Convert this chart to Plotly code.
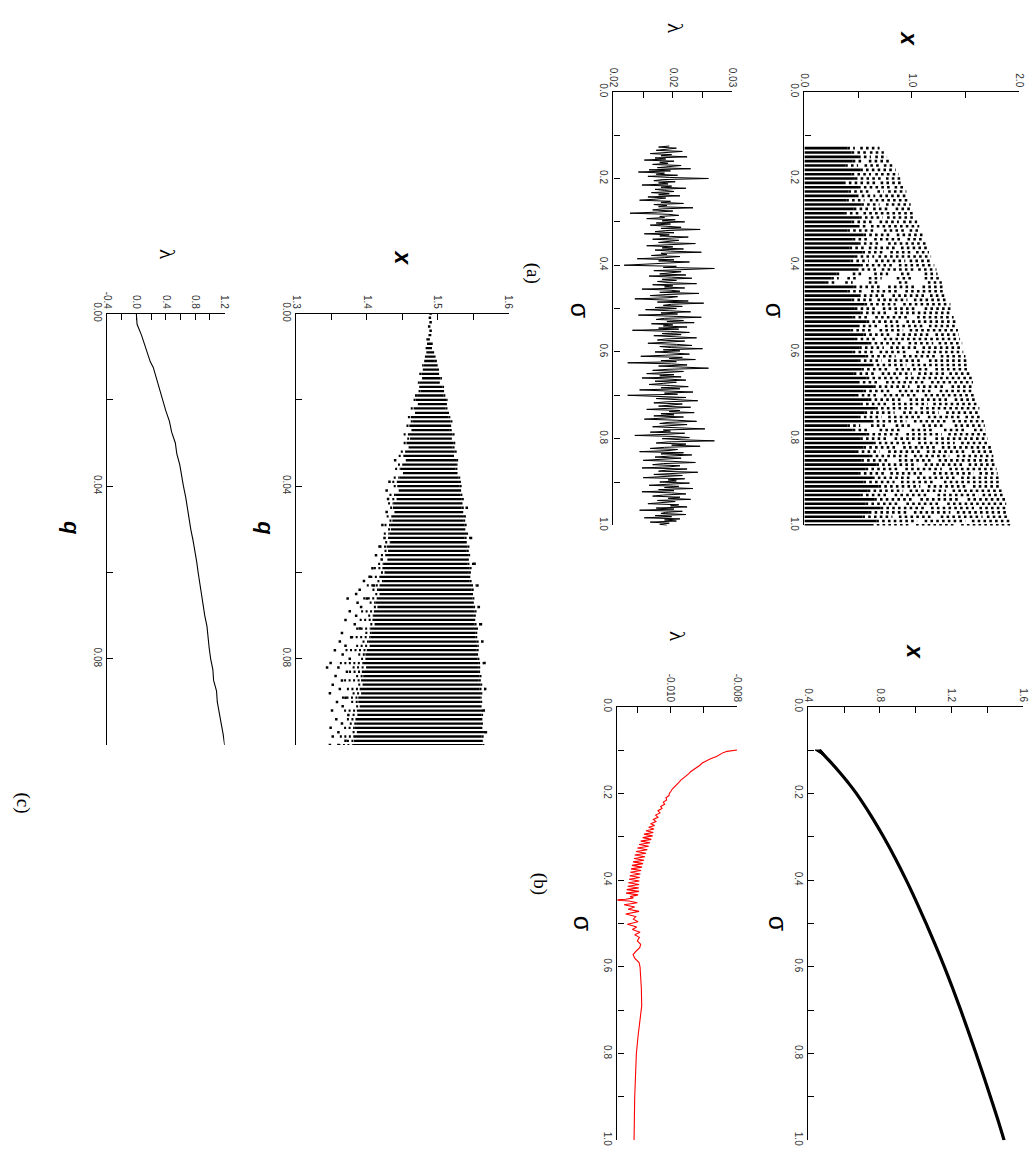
import plotly.graph_objects as go

W, H = 1035, 1164

# ---------------- panel (a), top: bifurcation rows x vs sigma ----------------
a1_sigma = [0.13, 0.14, 0.15, 0.16, 0.17, 0.18, 0.19, 0.20,
            0.21, 0.22, 0.23, 0.24, 0.25, 0.26, 0.27, 0.28, 0.29, 0.30,
            0.31, 0.32, 0.33, 0.34, 0.35, 0.36, 0.37, 0.38, 0.39, 0.40,
            0.41, 0.42, 0.43, 0.44, 0.45, 0.46, 0.47, 0.48, 0.49, 0.50,
            0.51, 0.52, 0.53, 0.54, 0.55, 0.56, 0.57, 0.58, 0.59, 0.60,
            0.61, 0.62, 0.63, 0.64, 0.65, 0.66, 0.67, 0.68, 0.69, 0.70,
            0.71, 0.72, 0.73, 0.74, 0.75, 0.76, 0.77, 0.78, 0.79, 0.80,
            0.81, 0.82, 0.83, 0.84, 0.85, 0.86, 0.87, 0.88, 0.89, 0.90,
            0.91, 0.92, 0.93, 0.94, 0.95, 0.96, 0.97, 0.98, 0.99, 1.00]
# end of the densely filled part of each row
a1_dense = [0.40, 0.44, 0.50, 0.45, 0.38, 0.52, 0.44, 0.47,
            0.36, 0.50, 0.41, 0.48, 0.39, 0.53, 0.46, 0.37, 0.51, 0.44,
            0.49, 0.40, 0.55, 0.45, 0.50, 0.42, 0.54, 0.47, 0.43, 0.52,
            0.48, 0.30, 0.25, 0.20, 0.46, 0.40, 0.50, 0.44, 0.56, 0.47,
            0.52, 0.45, 0.58, 0.49, 0.43, 0.55, 0.47, 0.60, 0.51, 0.45,
            0.57, 0.50, 0.62, 0.53, 0.46, 0.58, 0.49, 0.64, 0.55, 0.48,
            0.60, 0.52, 0.66, 0.56, 0.50, 0.62, 0.40, 0.45, 0.58, 0.52,
            0.64, 0.55, 0.48, 0.61, 0.53, 0.67, 0.57, 0.50, 0.63, 0.55,
            0.69, 0.59, 0.52, 0.65, 0.57, 0.71, 0.60, 0.54, 0.67, 0.62]
# largest x reached in each row
a1_max = [0.70, 0.74, 0.77, 0.80, 0.83, 0.85, 0.88, 0.90,
          0.91, 0.93, 0.95, 0.96, 0.98, 0.99, 1.00, 1.02, 1.04, 1.05,
          1.07, 1.08, 1.10, 1.12, 1.13, 1.15, 1.16, 1.18, 1.19, 1.21,
          1.23, 1.24, 1.26, 1.28, 1.30, 1.31, 1.33, 1.34, 1.36, 1.37,
          1.38, 1.39, 1.41, 1.42, 1.43, 1.44, 1.45, 1.47, 1.46, 1.48,
          1.50, 1.51, 1.52, 1.53, 1.55, 1.56, 1.57, 1.58, 1.58, 1.59,
          1.61, 1.62, 1.63, 1.64, 1.66, 1.67, 1.68, 1.69, 1.70, 1.71,
          1.73, 1.74, 1.75, 1.76, 1.77, 1.78, 1.79, 1.80, 1.81, 1.82,
          1.84, 1.85, 1.86, 1.87, 1.88, 1.89, 1.90, 1.91, 1.92, 1.93]
# empty stretches inside each row
a1_gaps = [
    [[0.47, 0.52]], [[0.58, 0.61]], [[0.62, 0.66]], [[0.55, 0.60]],
    [[0.50, 0.56], [0.70, 0.74]], [], [[0.62, 0.66]], [[0.72, 0.76]],
    [[0.55, 0.58], [0.68, 0.71]], [[0.80, 0.84]], [[0.62, 0.68], [0.74, 0.78]],
    [[0.66, 0.70]], [[0.56, 0.61], [0.85, 0.88]], [[0.70, 0.76]],
    [[0.60, 0.64], [0.80, 0.85]], [[0.52, 0.55], [0.90, 0.93]], [[0.73, 0.77]],
    [[0.64, 0.70], [0.88, 0.92]],
    [[0.58, 0.62]], [[0.66, 0.74], [0.95, 0.98]], [[0.82, 0.86]],
    [[0.60, 0.65], [0.92, 0.96]], [[0.70, 0.78]], [[0.57, 0.60], [0.86, 0.90]],
    [[0.75, 0.80], [1.00, 1.04]], [[0.65, 0.69]], [[0.60, 0.66], [0.94, 0.98]],
    [[0.82, 0.88]],
    [[0.68, 0.72], [1.02, 1.06]],
    [[0.35, 0.45], [0.55, 0.65], [0.78, 0.90], [1.00, 1.12]],
    [[0.32, 0.40], [0.50, 0.60], [0.72, 0.86], [1.02, 1.12]],
    [[0.28, 0.38], [0.45, 0.60], [0.70, 0.88], [0.98, 1.15]],
    [[0.72, 0.78], [1.05, 1.10]], [[0.55, 0.62], [0.88, 0.94]],
    [[0.76, 0.82], [1.12, 1.17]], [[0.63, 0.68], [0.96, 1.02]], [[0.85, 0.92]],
    [[0.66, 0.73], [1.05, 1.12]],
    [[0.78, 0.84]], [[0.60, 0.66], [0.98, 1.05]], [[0.88, 0.95]],
    [[0.70, 0.75], [1.10, 1.16]], [[0.62, 0.70], [0.92, 0.98]],
    [[0.80, 0.86], [1.18, 1.22]], [[0.68, 0.74]], [[0.90, 0.97], [1.20, 1.25]],
    [[0.74, 0.80], [1.05, 1.10]], [[0.64, 0.70], [0.96, 1.04]],
    [[0.85, 0.92], [1.22, 1.27]], [[0.72, 0.78], [1.10, 1.16]], [[0.95, 1.00]],
    [[0.80, 0.85], [1.15, 1.22]], [[0.66, 0.72], [1.00, 1.06], [1.30, 1.35]],
    [[0.88, 0.94]], [[0.70, 0.76], [1.12, 1.18]], [[0.98, 1.05], [1.32, 1.37]],
    [[0.82, 0.88], [1.20, 1.26]], [[0.68, 0.74], [1.05, 1.12]],
    [[0.92, 0.98], [1.35, 1.40]], [[0.76, 0.82], [1.15, 1.20]], [[1.02, 1.08]],
    [[0.84, 0.92], [1.25, 1.32]], [[0.72, 0.78], [1.08, 1.15], [1.45, 1.50]],
    [[0.95, 1.02], [1.32, 1.38]],
    [[0.52, 0.62], [0.75, 0.85], [1.00, 1.10], [1.30, 1.40]],
    [[0.60, 0.70], [0.90, 1.00], [1.20, 1.30], [1.50, 1.58]],
    [[0.88, 0.95], [1.28, 1.34]], [[0.78, 0.84], [1.15, 1.22]],
    [[1.00, 1.06], [1.40, 1.46]], [[0.85, 0.92], [1.22, 1.28]],
    [[0.70, 0.78], [1.08, 1.14], [1.50, 1.56]], [[0.96, 1.02], [1.35, 1.42]],
    [[0.80, 0.88], [1.18, 1.25]], [[1.05, 1.12], [1.48, 1.53]],
    [[0.88, 0.94], [1.28, 1.35]], [[0.74, 0.80], [1.12, 1.20], [1.58, 1.63]],
    [[0.98, 1.05], [1.40, 1.46]], [[0.84, 0.90], [1.22, 1.30]],
    [[1.08, 1.15], [1.52, 1.57]], [[0.92, 0.98], [1.32, 1.38]],
    [[0.78, 0.84], [1.16, 1.24], [1.62, 1.66]], [[1.02, 1.08], [1.45, 1.52]],
    [[0.88, 0.95], [1.26, 1.33]], [[1.12, 1.18], [1.58, 1.63]],
    [[0.95, 1.02], [1.36, 1.42]], [[0.82, 0.88], [1.20, 1.27], [1.66, 1.70]],
    [[1.05, 1.12], [1.50, 1.56]], [[0.98, 1.04], [1.40, 1.46]],
]

# ---------------- panel (a), middle: lambda vs sigma ----------------
a2_sigma = [
    0.1250, 0.1275, 0.1300, 0.1325, 0.1350, 0.1375, 0.1400, 0.1425, 0.1450, 0.1475,
    0.1500, 0.1525, 0.1550, 0.1575, 0.1600, 0.1625, 0.1650, 0.1675, 0.1700, 0.1725,
    0.1750, 0.1775, 0.1800, 0.1825, 0.1850, 0.1875, 0.1900, 0.1925, 0.1950, 0.1975,
    0.2000, 0.2025, 0.2050, 0.2075, 0.2100, 0.2125, 0.2150, 0.2175, 0.2200, 0.2225,
    0.2250, 0.2275, 0.2300, 0.2325, 0.2350, 0.2375, 0.2400, 0.2425, 0.2450, 0.2475,
    0.2500, 0.2525, 0.2550, 0.2575, 0.2600, 0.2625, 0.2650, 0.2675, 0.2700, 0.2725,
    0.2750, 0.2775, 0.2800, 0.2825, 0.2850, 0.2875, 0.2900, 0.2925, 0.2950, 0.2975,
    0.3000, 0.3025, 0.3050, 0.3075, 0.3100, 0.3125, 0.3150, 0.3175, 0.3200, 0.3225,
    0.3250, 0.3275, 0.3300, 0.3325, 0.3350, 0.3375, 0.3400, 0.3425, 0.3450, 0.3475,
    0.3500, 0.3525, 0.3550, 0.3575, 0.3600, 0.3625, 0.3650, 0.3675, 0.3700, 0.3725,
    0.3750, 0.3775, 0.3800, 0.3825, 0.3850, 0.3875, 0.3900, 0.3925, 0.3950, 0.3975,
    0.4000, 0.4025, 0.4050, 0.4075, 0.4100, 0.4125, 0.4150, 0.4175, 0.4200, 0.4225,
    0.4250, 0.4275, 0.4300, 0.4325, 0.4350, 0.4375, 0.4400, 0.4425, 0.4450, 0.4475,
    0.4500, 0.4525, 0.4550, 0.4575, 0.4600, 0.4625, 0.4650, 0.4675, 0.4700, 0.4725,
    0.4750, 0.4775, 0.4800, 0.4825, 0.4850, 0.4875, 0.4900, 0.4925, 0.4950, 0.4975,
    0.5000, 0.5025, 0.5050, 0.5075, 0.5100, 0.5125, 0.5150, 0.5175, 0.5200, 0.5225,
    0.5250, 0.5275, 0.5300, 0.5325, 0.5350, 0.5375, 0.5400, 0.5425, 0.5450, 0.5475,
    0.5500, 0.5525, 0.5550, 0.5575, 0.5600, 0.5625, 0.5650, 0.5675, 0.5700, 0.5725,
    0.5750, 0.5775, 0.5800, 0.5825, 0.5850, 0.5875, 0.5900, 0.5925, 0.5950, 0.5975,
    0.6000, 0.6025, 0.6050, 0.6075, 0.6100, 0.6125, 0.6150, 0.6175, 0.6200, 0.6225,
    0.6250, 0.6275, 0.6300, 0.6325, 0.6350, 0.6375, 0.6400, 0.6425, 0.6450, 0.6475,
    0.6500, 0.6525, 0.6550, 0.6575, 0.6600, 0.6625, 0.6650, 0.6675, 0.6700, 0.6725,
    0.6750, 0.6775, 0.6800, 0.6825, 0.6850, 0.6875, 0.6900, 0.6925, 0.6950, 0.6975,
    0.7000, 0.7025, 0.7050, 0.7075, 0.7100, 0.7125, 0.7150, 0.7175, 0.7200, 0.7225,
    0.7250, 0.7275, 0.7300, 0.7325, 0.7350, 0.7375, 0.7400, 0.7425, 0.7450, 0.7475,
    0.7500, 0.7525, 0.7550, 0.7575, 0.7600, 0.7625, 0.7650, 0.7675, 0.7700, 0.7725,
    0.7750, 0.7775, 0.7800, 0.7825, 0.7850, 0.7875, 0.7900, 0.7925, 0.7950, 0.7975,
    0.8000, 0.8025, 0.8050, 0.8075, 0.8100, 0.8125, 0.8150, 0.8175, 0.8200, 0.8225,
    0.8250, 0.8275, 0.8300, 0.8325, 0.8350, 0.8375, 0.8400, 0.8425, 0.8450, 0.8475,
    0.8500, 0.8525, 0.8550, 0.8575, 0.8600, 0.8625, 0.8650, 0.8675, 0.8700, 0.8725,
    0.8750, 0.8775, 0.8800, 0.8825, 0.8850, 0.8875, 0.8900, 0.8925, 0.8950, 0.8975,
    0.9000, 0.9025, 0.9050, 0.9075, 0.9100, 0.9125, 0.9150, 0.9175, 0.9200, 0.9225,
    0.9250, 0.9275, 0.9300, 0.9325, 0.9350, 0.9375, 0.9400, 0.9425, 0.9450, 0.9475,
    0.9500, 0.9525, 0.9550, 0.9575, 0.9600, 0.9625, 0.9650, 0.9675, 0.9700, 0.9725,
    0.9750, 0.9775, 0.9800, 0.9825, 0.9850, 0.9875, 0.9900, 0.9925, 0.9950, 0.9975,
    1.0000]
a2_lambda = [
    0.0197, 0.0188, 0.0203, 0.0192, 0.0186, 0.0208, 0.0195, 0.0181, 0.0199, 0.0190,
    0.0212, 0.0185, 0.0194, 0.0176, 0.0201, 0.0189, 0.0196, 0.0183, 0.0207, 0.0192,
    0.0187, 0.0215, 0.0180, 0.0198, 0.0171, 0.0193, 0.0186, 0.0204, 0.0179, 0.0197,
    0.0230, 0.0191, 0.0184, 0.0202, 0.0188, 0.0196, 0.0174, 0.0199, 0.0190, 0.0211,
    0.0185, 0.0193, 0.0201, 0.0182, 0.0197, 0.0188, 0.0206, 0.0179, 0.0194, 0.0186,
    0.0172, 0.0198, 0.0190, 0.0209, 0.0184, 0.0195, 0.0188, 0.0217, 0.0191, 0.0183,
    0.0200, 0.0187, 0.0164, 0.0196, 0.0205, 0.0189, 0.0193, 0.0178, 0.0202, 0.0191,
    0.0210, 0.0186, 0.0198, 0.0181, 0.0195, 0.0207, 0.0190, 0.0223, 0.0194, 0.0185,
    0.0201, 0.0176, 0.0197, 0.0189, 0.0213, 0.0192, 0.0183, 0.0205, 0.0196, 0.0188,
    0.0219, 0.0193, 0.0178, 0.0200, 0.0191, 0.0209, 0.0185, 0.0198, 0.0224, 0.0190,
    0.0195, 0.0182, 0.0206, 0.0193, 0.0170, 0.0201, 0.0188, 0.0214, 0.0197, 0.0186,
    0.0159, 0.0203, 0.0192, 0.0235, 0.0198, 0.0184, 0.0207, 0.0194, 0.0189, 0.0211,
    0.0180, 0.0199, 0.0216, 0.0191, 0.0203, 0.0187, 0.0196, 0.0220, 0.0183, 0.0200,
    0.0193, 0.0210, 0.0174, 0.0198, 0.0206, 0.0189, 0.0222, 0.0195, 0.0181, 0.0204,
    0.0196, 0.0168, 0.0201, 0.0213, 0.0187, 0.0226, 0.0199, 0.0192, 0.0208, 0.0185,
    0.0203, 0.0177, 0.0197, 0.0215, 0.0190, 0.0204, 0.0171, 0.0199, 0.0224, 0.0193,
    0.0186, 0.0209, 0.0195, 0.0218, 0.0182, 0.0200, 0.0192, 0.0212, 0.0188, 0.0205,
    0.0166, 0.0198, 0.0214, 0.0191, 0.0207, 0.0184, 0.0201, 0.0220, 0.0194, 0.0187,
    0.0210, 0.0196, 0.0179, 0.0203, 0.0216, 0.0189, 0.0199, 0.0225, 0.0192, 0.0206,
    0.0185, 0.0201, 0.0214, 0.0194, 0.0173, 0.0208, 0.0197, 0.0219, 0.0190, 0.0203,
    0.0162, 0.0199, 0.0212, 0.0188, 0.0205, 0.0230, 0.0196, 0.0183, 0.0209, 0.0194,
    0.0178, 0.0201, 0.0189, 0.0207, 0.0174, 0.0196, 0.0211, 0.0185, 0.0203, 0.0192,
    0.0180, 0.0198, 0.0213, 0.0190, 0.0206, 0.0172, 0.0200, 0.0217, 0.0193, 0.0204,
    0.0162, 0.0197, 0.0211, 0.0186, 0.0203, 0.0221, 0.0195, 0.0184, 0.0208, 0.0199,
    0.0188, 0.0215, 0.0193, 0.0178, 0.0206, 0.0197, 0.0218, 0.0190, 0.0201, 0.0184,
    0.0209, 0.0194, 0.0176, 0.0203, 0.0220, 0.0196, 0.0189, 0.0212, 0.0199, 0.0183,
    0.0205, 0.0227, 0.0192, 0.0198, 0.0181, 0.0210, 0.0195, 0.0168, 0.0202, 0.0214,
    0.0191, 0.0207, 0.0235, 0.0196, 0.0186, 0.0211, 0.0199, 0.0223, 0.0193, 0.0181,
    0.0204, 0.0196, 0.0172, 0.0209, 0.0190, 0.0216, 0.0198, 0.0185, 0.0207, 0.0194,
    0.0175, 0.0201, 0.0219, 0.0192, 0.0183, 0.0206, 0.0197, 0.0174, 0.0212, 0.0195,
    0.0188, 0.0221, 0.0199, 0.0184, 0.0208, 0.0193, 0.0175, 0.0210, 0.0196, 0.0203,
    0.0189, 0.0214, 0.0197, 0.0180, 0.0205, 0.0193, 0.0217, 0.0188, 0.0201, 0.0174,
    0.0199, 0.0211, 0.0192, 0.0183, 0.0206, 0.0196, 0.0215, 0.0187, 0.0202, 0.0193,
    0.0179, 0.0205, 0.0198, 0.0212, 0.0186, 0.0201, 0.0172, 0.0208, 0.0194, 0.0190,
    0.0211, 0.0185, 0.0199, 0.0176, 0.0206, 0.0193, 0.0203, 0.0181, 0.0197, 0.0189,
    0.0195]

# ---------------- panel (b), top: x vs sigma ----------------
b1_sigma = [0.10, 0.125, 0.15, 0.175, 0.20, 0.25, 0.30, 0.35, 0.40, 0.45, 0.50, 0.55,
            0.60, 0.65, 0.70, 0.75, 0.80, 0.85, 0.90, 0.95, 1.00]
b1_x = [0.461, 0.518, 0.572, 0.622, 0.668, 0.748, 0.820, 0.886, 0.947, 1.004, 1.058, 1.110,
        1.160, 1.207, 1.252, 1.295, 1.337, 1.378, 1.418, 1.457, 1.494]
# short transient wedge at the start of the branch
b1_wedge_sigma = [0.100, 0.100, 0.118, 0.100]
b1_wedge_x = [0.438, 0.472, 0.505, 0.438]

# ---------------- panel (b), middle: lambda vs sigma ----------------
b2_sigma = [0.100, 0.103, 0.106, 0.110, 0.115, 0.120, 0.125, 0.130, 0.135, 0.140,
            0.145, 0.150, 0.155, 0.160, 0.165, 0.170, 0.175, 0.180, 0.185, 0.190,
            0.195, 0.200, 0.205, 0.210, 0.215, 0.220, 0.225, 0.230, 0.235, 0.240,
            0.245, 0.250, 0.255, 0.260, 0.265, 0.270,
            0.274, 0.278, 0.282, 0.286, 0.290, 0.294, 0.298, 0.302, 0.306, 0.310,
            0.314, 0.318, 0.322, 0.326, 0.330, 0.334, 0.338, 0.342, 0.346, 0.350,
            0.354, 0.358, 0.362, 0.366, 0.370, 0.374, 0.378, 0.382, 0.386, 0.390,
            0.394, 0.398, 0.402, 0.406, 0.410, 0.414, 0.418, 0.422, 0.426, 0.430,
            0.434, 0.438, 0.441, 0.444, 0.446, 0.448,
            0.452, 0.457, 0.462, 0.467, 0.472, 0.478, 0.484, 0.490, 0.496, 0.502,
            0.508, 0.514, 0.520, 0.526, 0.532, 0.540, 0.548, 0.556, 0.564, 0.572,
            0.580, 0.590, 0.600, 0.620, 0.650, 0.690, 0.720, 0.760, 0.800, 0.850,
            0.900, 0.950, 1.000]
b2_lambda = [-0.00800, -0.00830, -0.00842, -0.00850, -0.00862, -0.00880, -0.00893, -0.00905, -0.00912, -0.00922,
             -0.00930, -0.00940, -0.00946, -0.00955, -0.00962, -0.00970, -0.00976, -0.00983, -0.00988, -0.00995,
             -0.00999, -0.01004, -0.01005, -0.01014, -0.01012, -0.01022, -0.01018, -0.01030, -0.01026, -0.01038,
             -0.01032, -0.01045, -0.01038, -0.01052, -0.01044, -0.01060,
             -0.01048, -0.01066, -0.01050, -0.01074, -0.01052, -0.01080, -0.01054, -0.01084, -0.01058, -0.01090,
             -0.01062, -0.01095, -0.01066, -0.01100, -0.01070, -0.01104, -0.01074, -0.01108, -0.01077, -0.01110,
             -0.01080, -0.01113, -0.01083, -0.01116, -0.01086, -0.01119, -0.01089, -0.01121, -0.01091, -0.01123,
             -0.01093, -0.01125, -0.01094, -0.01127, -0.01095, -0.01129, -0.01096, -0.01132, -0.01095, -0.01134,
             -0.01098, -0.01122, -0.01112, -0.01135, -0.01168, -0.01125,
             -0.01100, -0.01140, -0.01108, -0.01128, -0.01095, -0.01135, -0.01105, -0.01112, -0.01098, -0.01130,
             -0.01102, -0.01115, -0.01092, -0.01108, -0.01094, -0.01100, -0.01090, -0.01093, -0.01104, -0.01113,
             -0.01108, -0.01095, -0.01092, -0.01090, -0.01088, -0.01087, -0.01092, -0.01098, -0.01103, -0.01106,
             -0.01108, -0.01109, -0.01110]

# ---------------- panel (a), bottom: bifurcation rows x vs q ----------------
a3_q = [0.000, 0.001, 0.002, 0.003, 0.004, 0.005, 0.006, 0.007, 0.008, 0.009,
        0.010, 0.011, 0.012, 0.013, 0.014, 0.015, 0.016, 0.017, 0.018, 0.019,
        0.020, 0.021, 0.022, 0.023, 0.024, 0.025, 0.026, 0.027, 0.028, 0.029,
        0.030, 0.031, 0.032, 0.033, 0.034, 0.035, 0.036, 0.037, 0.038, 0.039,
        0.040, 0.041, 0.042, 0.043, 0.044, 0.045, 0.046, 0.047, 0.048, 0.049,
        0.050, 0.051, 0.052, 0.053, 0.054, 0.055, 0.056, 0.057, 0.058, 0.059,
        0.060, 0.061, 0.062, 0.063, 0.064, 0.065, 0.066, 0.067, 0.068, 0.069,
        0.070, 0.071, 0.072, 0.073, 0.074, 0.075, 0.076, 0.077, 0.078, 0.079,
        0.080, 0.081, 0.082, 0.083, 0.084, 0.085, 0.086, 0.087, 0.088, 0.089,
        0.090, 0.091, 0.092, 0.093, 0.094, 0.095, 0.096, 0.097, 0.098, 0.099, 0.100]
# filled core of each row
a3_lo = [1.490, 1.489, 1.490, 1.488, 1.490, 1.487, 1.484, 1.485, 1.483, 1.484,
         1.482, 1.481, 1.480, 1.479, 1.477, 1.478, 1.475, 1.474, 1.476, 1.471,
         1.469, 1.472, 1.466, 1.468, 1.462, 1.465, 1.460, 1.463, 1.458, 1.461,
         1.456, 1.459, 1.454, 1.452, 1.455, 1.450, 1.448, 1.451, 1.446, 1.444,
         1.443, 1.445, 1.440, 1.442, 1.438, 1.437, 1.439, 1.435, 1.436, 1.433,
         1.434, 1.432, 1.430, 1.433, 1.428, 1.430, 1.426, 1.429, 1.424, 1.422,
         1.425, 1.420, 1.423, 1.418, 1.416, 1.418, 1.414, 1.412, 1.415, 1.410,
         1.410, 1.408, 1.411, 1.405, 1.407, 1.405, 1.402, 1.404, 1.400, 1.398,
         1.398, 1.396, 1.399, 1.393, 1.395, 1.392, 1.394, 1.390, 1.392, 1.388,
         1.388, 1.390, 1.386, 1.387, 1.384, 1.385, 1.383, 1.386, 1.381, 1.382, 1.380]
a3_hi = [1.490, 1.489, 1.490, 1.488, 1.490, 1.491, 1.489, 1.493, 1.492, 1.495,
         1.497, 1.496, 1.500, 1.499, 1.502, 1.504, 1.503, 1.507, 1.509, 1.508,
         1.512, 1.513, 1.511, 1.516, 1.515, 1.518, 1.519, 1.517, 1.521, 1.520,
         1.522, 1.521, 1.524, 1.523, 1.526, 1.526, 1.525, 1.528, 1.529, 1.530,
         1.531, 1.533, 1.532, 1.534, 1.535, 1.534, 1.536, 1.537, 1.536, 1.538,
         1.539, 1.540, 1.538, 1.541, 1.542, 1.541, 1.543, 1.544, 1.542, 1.545,
         1.544, 1.546, 1.545, 1.547, 1.548, 1.547, 1.549, 1.551, 1.550, 1.552,
         1.551, 1.553, 1.552, 1.554, 1.553, 1.553, 1.555, 1.556, 1.555, 1.557,
         1.556, 1.557, 1.558, 1.557, 1.559, 1.558, 1.560, 1.559, 1.561, 1.560,
         1.560, 1.562, 1.561, 1.562, 1.563, 1.561, 1.563, 1.564, 1.562, 1.563, 1.563]
# sparse outer fringe of each row
a3_edge_lo = [1.490, 1.489, 1.490, 1.488, 1.490, 1.487, 1.484, 1.485, 1.483, 1.484,
              1.482, 1.481, 1.478, 1.479, 1.474, 1.478, 1.472, 1.474, 1.473, 1.468,
              1.466, 1.472, 1.462, 1.468, 1.458, 1.462, 1.456, 1.463, 1.452, 1.457,
              1.452, 1.459, 1.448, 1.445, 1.455, 1.444, 1.440, 1.451, 1.438, 1.436,
              1.438, 1.445, 1.432, 1.436, 1.430, 1.433, 1.439, 1.428, 1.432, 1.425,
              1.430, 1.424, 1.430, 1.426, 1.418, 1.425, 1.420, 1.429, 1.416, 1.410,
              1.420, 1.405, 1.415, 1.400, 1.408, 1.412, 1.395, 1.404, 1.410, 1.392,
              1.402, 1.390, 1.405, 1.385, 1.398, 1.378, 1.394, 1.385, 1.370, 1.388,
              1.392, 1.362, 1.380, 1.375, 1.385, 1.368, 1.388, 1.372, 1.380, 1.365,
              1.378, 1.385, 1.368, 1.380, 1.372, 1.376, 1.368, 1.380, 1.362, 1.372, 1.360]
a3_edge_hi = [1.490, 1.489, 1.490, 1.488, 1.490, 1.491, 1.489, 1.493, 1.492, 1.495,
              1.497, 1.499, 1.500, 1.502, 1.502, 1.506, 1.503, 1.509, 1.509, 1.511,
              1.514, 1.513, 1.515, 1.516, 1.518, 1.521, 1.519, 1.521, 1.524, 1.520,
              1.525, 1.524, 1.527, 1.523, 1.529, 1.528, 1.530, 1.528, 1.532, 1.533,
              1.534, 1.533, 1.536, 1.537, 1.535, 1.540, 1.536, 1.540, 1.539, 1.541,
              1.539, 1.543, 1.546, 1.541, 1.545, 1.544, 1.547, 1.544, 1.551, 1.548,
              1.548, 1.546, 1.550, 1.554, 1.551, 1.550, 1.553, 1.551, 1.557, 1.555,
              1.554, 1.553, 1.560, 1.557, 1.556, 1.559, 1.562, 1.558, 1.560, 1.557,
              1.561, 1.565, 1.560, 1.563, 1.562, 1.561, 1.564, 1.567, 1.563, 1.562,
              1.565, 1.562, 1.566, 1.564, 1.563, 1.566, 1.563, 1.567, 1.565, 1.564, 1.568]
# isolated points outside the main band
a3_out_q = [0.034, 0.039, 0.041, 0.043, 0.046, 0.049, 0.052, 0.054, 0.056, 0.057,
            0.059, 0.061, 0.062, 0.063, 0.064, 0.065, 0.066, 0.066, 0.067, 0.068,
            0.069, 0.070, 0.071, 0.072, 0.073, 0.074, 0.075, 0.076, 0.077, 0.078,
            0.079, 0.080, 0.081, 0.082, 0.082, 0.083, 0.084, 0.085, 0.086, 0.087,
            0.088, 0.089, 0.090, 0.091, 0.092, 0.093, 0.094, 0.095, 0.096, 0.097,
            0.098, 0.099, 0.100, 0.100,
            0.045, 0.052, 0.058, 0.063, 0.068, 0.072, 0.076, 0.081, 0.087, 0.092, 0.097]
a3_out_x = [1.440, 1.432, 1.428, 1.430, 1.428, 1.422, 1.425, 1.418, 1.413, 1.421,
            1.408, 1.404, 1.396, 1.410, 1.390, 1.385, 1.373, 1.400, 1.387, 1.392,
            1.376, 1.385, 1.370, 1.383, 1.390, 1.365, 1.378, 1.362, 1.370, 1.355,
            1.366, 1.376, 1.349, 1.344, 1.360, 1.372, 1.356, 1.365, 1.352, 1.362,
            1.348, 1.370, 1.358, 1.366, 1.351, 1.374, 1.357, 1.365, 1.349, 1.360,
            1.352, 1.370, 1.348, 1.360,
            1.541, 1.547, 1.552, 1.556, 1.558, 1.561, 1.563, 1.566, 1.567, 1.565, 1.568]

# ---------------- panel (c): lambda vs q ----------------
c_q = [0.0000, 0.0025, 0.0050, 0.0075, 0.0100, 0.0112, 0.0125, 0.0150, 0.0175, 0.0200,
       0.0225, 0.0250, 0.0275, 0.0300, 0.0325, 0.0350, 0.0375, 0.0400, 0.0425, 0.0450,
       0.0475, 0.0500, 0.0525, 0.0550, 0.0575, 0.0600, 0.0625, 0.0650, 0.0675, 0.0700,
       0.0725, 0.0750, 0.0775, 0.0800, 0.0825, 0.0850, 0.0875, 0.0900, 0.0925, 0.0950,
       0.0975, 0.1000]
c_lambda = [0.00, 0.01, 0.07, 0.12, 0.17, 0.19, 0.23, 0.27, 0.31, 0.36,
            0.40, 0.45, 0.48, 0.53, 0.55, 0.59, 0.61, 0.64, 0.67, 0.69,
            0.72, 0.74, 0.77, 0.80, 0.82, 0.84, 0.86, 0.88, 0.91, 0.93,
            0.96, 0.97, 0.99, 1.01, 1.04, 1.05, 1.09, 1.10, 1.13, 1.15,
            1.18, 1.20]


def px_x(p):
    return p / W


def px_y(p):
    return 1 - p / H


def row_segments(x0, x1, gaps):
    segs, cur = [], x0
    for g0, g1 in sorted(gaps):
        if g1 <= cur or g0 >= x1:
            continue
        if g0 > cur:
            segs.append((cur, g0))
        cur = max(cur, g1)
    if cur < x1:
        segs.append((cur, x1))
    return segs


fig = go.Figure()

# (a) top: dense parts solid, sparse parts dotted
dx, dy, sx, sy = [], [], [], []
for s, d, m, g in zip(a1_sigma, a1_dense, a1_max, a1_gaps):
    dx += [0.0, d, None]
    dy += [s, s, None]
    for a, b in row_segments(d, m, g):
        sx += [a, b, None]
        sy += [s, s, None]
fig.add_trace(go.Scatter(x=dx, y=dy, mode="lines", xaxis="x", yaxis="y",
                         line=dict(color="black", width=2.6), hoverinfo="skip"))
fig.add_trace(go.Scatter(x=sx, y=sy, mode="lines", xaxis="x", yaxis="y",
                         line=dict(color="black", width=2.6, dash="2.6px,3.2px"),
                         hoverinfo="skip"))

# (a) middle
fig.add_trace(go.Scatter(x=a2_lambda, y=a2_sigma, mode="lines", xaxis="x2", yaxis="y2",
                         line=dict(color="black", width=1.0)))

# (b) top
fig.add_trace(go.Scatter(x=b1_x, y=b1_sigma, mode="lines", xaxis="x3", yaxis="y3",
                         line=dict(color="black", width=3.2, shape="spline")))
fig.add_trace(go.Scatter(x=b1_wedge_x, y=b1_wedge_sigma, mode="lines", fill="toself",
                         fillcolor="black", xaxis="x3", yaxis="y3",
                         line=dict(color="black", width=1)))

# (b) middle
fig.add_trace(go.Scatter(x=b2_lambda, y=b2_sigma, mode="lines", xaxis="x4", yaxis="y4",
                         line=dict(color="#ff0000", width=1.1)))

# (a) bottom: solid core, dotted fringe, isolated points
lx, ly, fx, fy, px_, py_ = [], [], [], [], [], []
for q, lo, hi, elo, ehi in zip(a3_q, a3_lo, a3_hi, a3_edge_lo, a3_edge_hi):
    if hi - lo < 0.002:
        px_.append(lo)
        py_.append(q)
    else:
        lx += [lo, hi, None]
        ly += [q, q, None]
    if lo - elo > 0.001:
        fx += [elo, lo, None]
        fy += [q, q, None]
    if ehi - hi > 0.001:
        fx += [hi, ehi, None]
        fy += [q, q, None]
fig.add_trace(go.Scatter(x=lx, y=ly, mode="lines", xaxis="x5", yaxis="y5",
                         line=dict(color="black", width=2.3), hoverinfo="skip"))
fig.add_trace(go.Scatter(x=fx, y=fy, mode="lines", xaxis="x5", yaxis="y5",
                         line=dict(color="black", width=2.3, dash="2px,2.5px"),
                         hoverinfo="skip"))
fig.add_trace(go.Scatter(x=px_ + a3_out_x, y=py_ + a3_out_q, mode="markers",
                         xaxis="x5", yaxis="y5",
                         marker=dict(color="black", size=2.5, symbol="square")))

# (c)
fig.add_trace(go.Scatter(x=c_lambda, y=c_q, mode="lines", xaxis="x6", yaxis="y6",
                         line=dict(color="black", width=1.1)))

tickfont = dict(family="Liberation Sans, Arial, sans-serif", size=10, color="#333333")


def h_axis(left, right, rng, vals, text):
    return dict(domain=[px_x(left), px_x(right)], range=rng, side="top",
                tickmode="array", tickvals=vals, ticktext=text, ticks="inside",
                ticklen=6, tickwidth=1, tickcolor="black", tickangle=90,
                tickfont=tickfont, showline=True, linecolor="black", linewidth=1.2,
                showgrid=False, zeroline=False, fixedrange=True)


def v_axis(top, bottom, rng, vals, text):
    return dict(domain=[px_y(bottom), px_y(top)], range=rng, side="left",
                tickmode="array", tickvals=vals, ticktext=text, ticks="inside",
                ticklen=6, tickwidth=1, tickcolor="black", tickangle=90,
                tickfont=tickfont, showline=True, linecolor="black", linewidth=1.2,
                showgrid=False, zeroline=False, fixedrange=True)


sig_vals = [0.0, 0.1, 0.2, 0.3, 0.4, 0.5, 0.6, 0.7, 0.8, 0.9, 1.0]
sig_text = ["0.0", "", "0.2", "", "0.4", "", "0.6", "", "0.8", "", "1.0"]
q_vals = [0.0, 0.02, 0.04, 0.06, 0.08, 0.1]
q_text = ["0.00", "", "0.04", "", "0.08", ""]

layout = dict(
    width=W, height=H, margin=dict(l=0, r=0, t=0, b=0),
    paper_bgcolor="white", plot_bgcolor="white", showlegend=False,
    xaxis=h_axis(808, 1025, [0, 2], [0, 0.5, 1.0, 1.5, 2.0],
                 ["0.0", "", "1.0", "", "2.0"]),
    yaxis=v_axis(82, 522, [1.0, 0.0], sig_vals, sig_text),
    xaxis2=h_axis(615, 735, [0.015, 0.025], [0.015, 0.0175, 0.02, 0.0225, 0.025],
                  ["0.02", "", "0.02", "", "0.03"]),
    yaxis2=v_axis(82, 522, [1.0, 0.0], sig_vals, sig_text),
    xaxis3=h_axis(812, 1029, [0.4, 1.6], [0.4, 0.6, 0.8, 1.0, 1.2, 1.4, 1.6],
                  ["0.4", "", "0.8", "", "1.2", "", "1.6"]),
    yaxis3=v_axis(706, 1146, [1.0, 0.0], sig_vals, sig_text),
    xaxis4=h_axis(619, 740, [-0.0116, -0.008], [-0.011, -0.010, -0.009, -0.008],
                  ["", "-0.010", "", "-0.008"]),
    yaxis4=v_axis(706, 1146, [1.0, 0.0], sig_vals, sig_text),
    xaxis5=h_axis(294, 509, [1.3, 1.6], [1.3, 1.35, 1.4, 1.45, 1.5, 1.55, 1.6],
                  ["1.3", "", "1.4", "", "1.5", "", "1.6"]),
    yaxis5=v_axis(307, 745, [0.1, 0.0], q_vals, q_text),
    xaxis6=h_axis(103, 222, [-0.4, 1.2], [-0.4, -0.2, 0.0, 0.2, 0.4, 0.6, 0.8, 1.0, 1.2],
                  ["-0.4", "", "0.0", "", "0.4", "", "0.8", "", "1.2"]),
    yaxis6=v_axis(307, 745, [0.1, 0.0], q_vals, q_text),
)
for i in range(1, 7):
    sfx = "" if i == 1 else str(i)
    layout["xaxis" + sfx]["anchor"] = "y" + sfx
    layout["yaxis" + sfx]["anchor"] = "x" + sfx
fig.update_layout(**layout)

# rotated axis titles and panel labels
sans = "Liberation Sans, Arial, sans-serif"
serif = "Liberation Serif, Times New Roman, serif"
titles = [
    ("<b><i>x</i></b>", 914, 28, sans, 23),
    ("<b><i>x</i></b>", 920, 650, sans, 23),
    ("<b><i>x</i></b>", 402, 250, sans, 23),
    ("λ", 677, 18, serif, 21),
    ("λ", 680, 635, serif, 21),
    ("λ", 163, 247, serif, 21),
    ("σ", 779, 304, sans, 25),
    ("σ", 582, 304, sans, 25),
    ("σ", 781, 926, sans, 25),
    ("σ", 584, 926, sans, 25),
    ("<b><i>q</i></b>", 263, 525, sans, 22),
    ("<b><i>q</i></b>", 67, 525, sans, 22),
    ("(a)", 534, 266, serif, 19),
    ("(b)", 541, 886, serif, 19),
    ("(c)", 18, 804, serif, 19),
]
for text, x, y, fam, size in titles:
    fig.add_annotation(text=text, x=px_x(x), y=px_y(y), xref="paper", yref="paper",
                       showarrow=False, textangle=90, xanchor="center", yanchor="middle",
                       font=dict(family=fam, size=size, color="black"))

fig.write_html("out.html")
